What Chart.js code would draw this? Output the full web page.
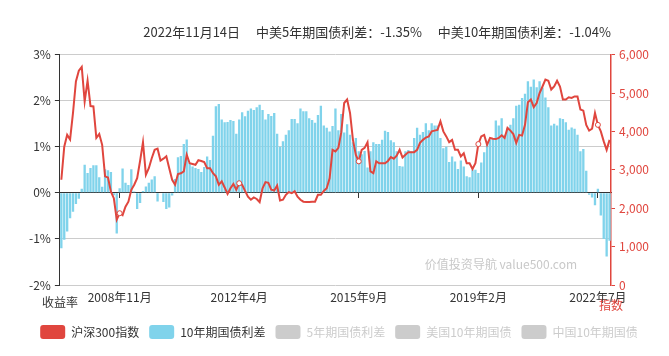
<!DOCTYPE html>
<html><head><meta charset="utf-8">
<script src="https://cdn.jsdelivr.net/npm/chart.js@4/dist/chart.umd.min.js"></script>
<style>html,body{margin:0;padding:0;background:#fff}#wrap{width:669px;height:356px;position:relative}</style>
</head><body><div id="wrap"><canvas id="c"></canvas></div>
<script>
// ---- data ----
const startYear = 2007, startMonth = 3, monthCount = 189;
const categories = [];
for (let k = 0; k < monthCount; k++) {
  const m0 = startMonth - 1 + k;
  categories.push((startYear + Math.floor(m0 / 12)) + '年' + (m0 % 12 + 1) + '月');
}
const labelEvery = 41, labelOffset = 20; // shown: 2008年11月, 2012年4月, 2015年9月, 2019年2月, 2022年7月

const csi300 = [
  2740,3600,3910,3790,4480,5300,5580,5680,4780,5320,4660,4650,3830,3930,3650,2830,2800,2430,2260,1700,
  1870,1820,2040,2170,2480,2610,2780,3230,3720,2870,3040,3300,3520,3550,3240,3290,3350,3040,2740,2610,
  2890,2910,2960,3390,3170,3150,3130,3250,
  3230,3200,3040,3040,2910,2830,2610,2700,2540,2370,2520,2630,2480,2650,2610,2450,2300,2220,2280,2240,
  2160,2520,2680,2660,2480,2460,2590,2200,2220,2350,2420,2390,2440,2300,2220,2170,2160,2160,2170,2170,
  2350,2350,2450,2520,2780,3520,3480,
  3570,3980,4740,4830,4480,3780,3390,3220,3520,3570,3720,2960,2910,3220,3170,3170,3170,3230,3330,3290,
  3370,3520,3320,3390,3460,3460,3460,3520,3700,3780,3840,3870,4000,4020,4040,4260,4000,3870,3720,3780,
  3520,3520,3350,3430,3170,3170,3020,
  3170,3670,3870,3910,3650,3830,3810,3800,3830,3900,3830,4090,4020,3930,3700,3910,3890,4170,4760,4830,
  4630,4740,5000,5170,5350,5320,5090,5170,5320,5170,4830,4830,4890,4870,4910,4910,4570,4540,4170,4020,
  4070,4480,4170,4000,3740,3520,3780
];
const spread10 = [
  -1.2,-1.02,-0.84,-0.55,-0.41,-0.24,-0.13,0.09,0.61,0.43,0.54,0.60,0.60,0.34,0.13,0.51,0.49,0.45,-0.05,-0.88,
  0.1,0.53,0.22,0.17,0.51,0.03,-0.35,-0.22,0.04,0.14,0.22,0.29,0.36,-0.19,-0.01,-0.2,-0.35,-0.32,-0.06,0.30,
  0.77,0.8,1.06,1.16,0.64,0.57,0.54,0.52,
  0.45,0.56,0.79,0.71,1.24,1.88,1.93,1.59,1.53,1.54,1.58,1.56,1.28,1.59,1.75,1.66,1.78,1.83,1.80,1.86,
  1.91,1.80,1.59,1.71,1.67,1.73,1.28,1.0,1.12,1.26,1.36,1.6,1.6,1.51,1.83,1.77,1.77,1.62,1.58,1.52,
  1.69,1.89,1.46,1.41,1.33,1.45,1.83,
  1.36,1.71,1.31,1.49,1.26,1.10,1.19,0.9,0.84,0.91,0.55,0.9,1.1,1.06,1.06,1.15,1.35,1.32,1.14,1.10,
  0.9,0.58,0.57,0.9,0.93,0.9,1.19,1.41,1.26,1.32,1.51,1.36,1.51,1.46,1.46,1.19,0.97,1.0,0.67,0.79,
  0.68,0.52,0.70,0.57,0.36,0.34,0.5,
  0.5,0.43,0.66,0.88,1.1,1.15,1.19,1.57,1.46,1.62,1.26,1.41,1.48,1.62,1.89,1.91,2.06,2.15,2.42,2.30,
  2.46,2.29,2.42,2.28,2.07,1.86,1.46,1.5,1.46,1.62,1.6,1.53,1.37,1.42,1.39,1.26,0.9,0.95,0.48,-0.04,
  -0.1,-0.27,0.09,-0.49,-1.0,-1.38,-1.04
];
const leftTicks = [-2, -1, 0, 1, 2, 3];
const rightTicks = [0, 1000, 2000, 3000, 4000, 5000, 6000];
const seriesNames = ['沪深300指数', '10年期国债利差'];
const inactiveNames = ['5年期国债利差', '美国10年期国债', '中国10年期国债'];
const titleParts = ['2022年11月14日', '中美5年期国债利差：-1.35%', '中美10年期国债利差：-1.04%'];
const yLeftName = '收益率', yRightName = '指数', watermark = '价值投资导航 value500.com';

// ---- styles ----
const RED = '#e0463e', BLUE = '#80d3eb', GRAYBOX = '#cccccc', TXT = '#333';
const FONT = "'Noto Sans CJK SC', 'Noto Sans', sans-serif";
Chart.defaults.font.family = FONT;
Chart.defaults.font.size = 12;
Chart.defaults.color = TXT;

const isLabelIdx = i => i % labelEvery === labelOffset;

const extras = {
  id: 'extras',
  beforeDatasetsDraw(chart) {
    const {ctx, chartArea} = chart;
    ctx.save();
    ctx.font = '12px ' + FONT;
    ctx.fillStyle = '#c8c8c8';
    ctx.textAlign = 'right';
    ctx.textBaseline = 'middle';
    ctx.fillText(watermark, chartArea.right - 34, chartArea.bottom - 21);
    ctx.restore();
  },
  afterDraw(chart) {
    const {ctx, chartArea, scales} = chart;
    ctx.save();
    ctx.font = '12px ' + FONT;
    ctx.textAlign = 'center';
    ctx.textBaseline = 'middle';
    ctx.fillStyle = TXT;
    ctx.fillText(yLeftName, scales.y.right, chartArea.bottom + 17);
    ctx.fillStyle = RED;
    ctx.fillText(yRightName, scales.y1.left, chartArea.bottom + 20);
    ctx.restore();
  }
};

new Chart(document.getElementById('c'), {
  data: {
    labels: categories,
    datasets: [
      {
        type: 'line', label: seriesNames[0], data: csi300, yAxisID: 'y1', xAxisID: 'x',
        borderColor: RED, backgroundColor: RED, borderWidth: 2, tension: 0, order: 0,
        pointRadius: c => isLabelIdx(c.index) ? 2.5 : 0,
        pointBackgroundColor: '#fff', pointBorderColor: RED, pointBorderWidth: 1
      },
      {
        type: 'bar', label: seriesNames[1], data: spread10, yAxisID: 'y', xAxisID: 'x',
        backgroundColor: BLUE, categoryPercentage: 1, barPercentage: 0.8, order: 1
      }
    ]
  },
  options: {
    responsive: true, maintainAspectRatio: false, animation: false,
    layout: {padding: {top: 24, left: 25, right: 16, bottom: 7}},
    scales: {
      x: {
        type: 'category', position: 'bottom', offset: true,
        grid: {display: false, drawTicks: false}, border: {display: false},
        ticks: {autoSkip: false, maxRotation: 0, minRotation: 0, padding: 5, color: TXT,
          callback: (v, i) => isLabelIdx(i) ? categories[i] : ''},
        afterFit: s => { s.height = 30; }
      },
      x0: {
        type: 'category', axis: 'x', position: {y: 0}, offset: true,
        grid: {drawOnChartArea: false, drawTicks: true, tickLength: 5,
          tickColor: c => isLabelIdx(c.index) ? TXT : 'rgba(0,0,0,0)'},
        border: {color: TXT, width: 1},
        ticks: {display: false}
      },
      y: {
        position: 'left', min: leftTicks[0], max: leftTicks[leftTicks.length - 1],
        afterBuildTicks: s => { s.ticks = leftTicks.map(v => ({value: v})); },
        ticks: {padding: 4, color: TXT, callback: v => v + '%'},
        grid: {color: '#cccccc', tickLength: 5, tickColor: TXT},
        border: {color: TXT, width: 1}
      },
      y1: {
        position: 'right', min: rightTicks[0], max: rightTicks[rightTicks.length - 1],
        afterBuildTicks: s => { s.ticks = rightTicks.map(v => ({value: v})); },
        ticks: {padding: 4, color: RED, callback: v => v.toLocaleString('en-US')},
        grid: {drawOnChartArea: false, tickLength: 4, tickColor: RED},
        border: {color: RED, width: 1.5}
      }
    },
    plugins: {
      tooltip: {enabled: false},
      title: {
        display: true, text: titleParts.join('\u3000 '), align: 'end', fullSize: false,
        color: TXT, font: {size: 13, weight: 'normal'}, padding: {top: 0, bottom: 15}
      },
      legend: {
        display: true, position: 'bottom', align: 'center',
        labels: {
          boxWidth: 25, boxHeight: 14, useBorderRadius: true, borderRadius: 3, padding: 10,
          font: {size: 12},
          generateLabels: chart => {
            const items = chart.data.datasets.map((ds, i) => ({
              text: ds.label, fillStyle: ds.backgroundColor, strokeStyle: ds.backgroundColor,
              lineWidth: 0, hidden: false, fontColor: TXT, datasetIndex: i, borderRadius: 3
            }));
            inactiveNames.forEach(n => items.push({
              text: n, fillStyle: GRAYBOX, strokeStyle: GRAYBOX, lineWidth: 0,
              hidden: false, fontColor: GRAYBOX, borderRadius: 3
            }));
            return items;
          }
        }
      }
    }
  },
  plugins: [extras]
});
</script>
</body></html>
